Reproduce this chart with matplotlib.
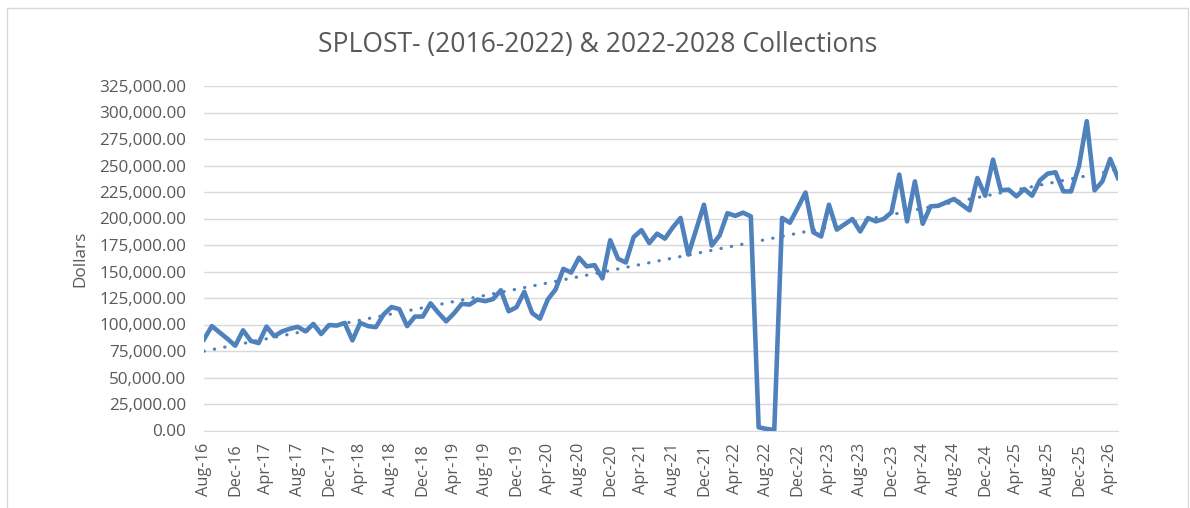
import numpy as np
import pandas as pd
import matplotlib
matplotlib.use("Agg")
import matplotlib.pyplot as plt
from matplotlib.patches import Rectangle
from matplotlib.ticker import FuncFormatter, MultipleLocator

OUTPUT_FILE = "out.png"
FIGURE_SIZE = (11.9, 5.08)
DPI = 100

TITLE = "SPLOST- (2016-2022) & 2022-2028 Collections"
Y_LABEL = "Dollars"
START_MONTH = "2016-08-01"
TICK_EVERY = 4

# monthly collections, Aug-16 onwards
collections_2016_2018 = [
    86000, 98500, 92500, 86500, 80000, 94500, 84500, 82500, 98000, 89000,
    93500, 96000, 97800, 93500, 100500, 91000, 99500, 99000, 101500, 85000,
    101500, 98500, 97500, 109500, 116500, 114500, 98500, 107500, 107500,
]
collections_2019_2020 = [
    120000, 111000, 103000, 110500, 119500, 118800, 123500, 122000, 124000,
    132300, 112500, 116300, 130800, 110800, 105500, 123500, 133000, 152500,
    149000, 163000, 154800, 156000, 143500, 179500,
]
collections_2021_2022 = [
    162000, 158500, 182500, 189000, 176800, 185700, 181000, 191500, 200500,
    166000, 189500, 213000, 174500, 184000, 205000, 202500, 205500, 202000,
    3000, 1500, 500, 200500, 196000, 210000,
]
collections_2023_2024 = [
    224500, 187000, 183000, 213000, 189500, 194500, 199500, 187800, 200400,
    197300, 199500, 205800, 241400, 197300, 235000, 195000, 211500, 212000,
    215200, 218400, 213000, 207700, 238200, 221500,
]
collections_2025_2026 = [
    255500, 226600, 227200, 220900, 227800, 221500, 236000, 242300, 243600,
    225600, 225600, 249200, 291800, 226600, 235000, 256200, 238200,
]

LINE_COLOR = "#4f81bd"
TEXT_COLOR = "#595959"
GRID_COLOR = "#d9d9d9"
FONT = ["Open Sans", "DejaVu Sans"]


def run():
    plt.rcParams["font.family"] = FONT
    fig = plt.figure(figsize=FIGURE_SIZE, dpi=DPI)
    ax = fig.add_axes([204 / 1190, 1 - 430.5 / 508, 914 / 1190, 344.5 / 508])

    values = __collect()
    months = pd.date_range(START_MONTH, periods=len(values), freq="MS")
    x = np.arange(len(values))

    __plot_all(ax, x, values, months)
    __decorate(fig)

    fig.savefig(OUTPUT_FILE, dpi=DPI)


def __collect():
    return np.array(
        collections_2016_2018
        + collections_2019_2020
        + collections_2021_2022
        + collections_2023_2024
        + collections_2025_2026,
        dtype=float,
    )


def __plot_all(ax, x, values, months):
    ax.plot(x, values, color=LINE_COLOR, lw=3.3, solid_joinstyle="round", zorder=3)

    # linear trendline like Excel's
    slope, intercept = np.polyfit(x + 1, values, 1)
    ax.plot(x, slope * (x + 1) + intercept, color=LINE_COLOR, lw=2.3,
            linestyle=(0, (0.1, 3.2)), dash_capstyle="round", zorder=2)

    ax.set_xlim(0, len(values) - 1)
    ax.set_ylim(0, 325000)
    ax.yaxis.set_major_locator(MultipleLocator(25000))
    ax.yaxis.set_major_formatter(FuncFormatter(lambda v, p: f"{v:,.2f}"))
    ax.grid(axis="y", color=GRID_COLOR, lw=1.0)
    ax.set_axisbelow(True)

    ticks = x[::TICK_EVERY]
    ax.set_xticks(ticks)
    ax.set_xticklabels([months[i].strftime("%b-%y") for i in ticks], rotation=90)

    for side in ["top", "right", "left"]:
        ax.spines[side].set_visible(False)
    ax.spines["bottom"].set_color(GRID_COLOR)

    ax.tick_params(axis="y", length=0, pad=13, labelsize=12.3, labelcolor=TEXT_COLOR)
    ax.tick_params(axis="x", length=0, pad=9, labelsize=11.8, labelcolor=TEXT_COLOR)


def __decorate(fig):
    fig.text(598 / 1190, 1 - 45 / 508, TITLE, ha="center", va="center",
             fontsize=19.1, color=TEXT_COLOR)
    fig.text(80 / 1190, 1 - 259 / 508, Y_LABEL, ha="center", va="center",
             rotation=90, fontsize=12.3, color=TEXT_COLOR)
    fig.patches.append(Rectangle((7 / 1190, -0.1), 1181 / 1190, 1.1 - 8 / 508,
                                 transform=fig.transFigure, fill=False,
                                 edgecolor=GRID_COLOR, lw=1.0))


if __name__ == "__main__":
    run()
